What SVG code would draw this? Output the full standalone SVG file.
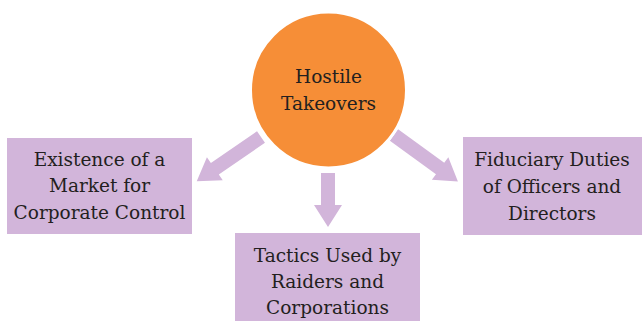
<svg xmlns="http://www.w3.org/2000/svg" width="642" height="321" viewBox="0 0 642 321">
<style>
.box{fill:#D2B5DA}
.arrow{fill:#D2B5DA}
text{font-family:"DejaVu Serif","Liberation Serif",serif;font-size:18.5px;fill:#231F20;text-anchor:middle}
</style>
<defs>
<polygon id="arr78" points="0,-7 56,-7 56,-14 78,0 56,14 56,7 0,7"/>
<polygon id="arr79" points="0,-7 57,-7 57,-14 79,0 57,14 57,7 0,7"/>
<polygon id="arr54" points="0,-7 32,-7 32,-14 54,0 32,14 32,7 0,7"/>
</defs>
<rect width="642" height="321" fill="#fff"/>
<g id="connectors" class="arrow">
<use href="#arr78" transform="translate(261,137) rotate(145.5)"/>
<use href="#arr54" transform="translate(328,173) rotate(90)"/>
<use href="#arr79" transform="translate(394,135) rotate(36)"/>
</g>
<g id="hub">
<circle cx="328.5" cy="90" r="78" fill="#F68E37" stroke="#fff" stroke-width="3"/>
<text x="328.5" y="83">Hostile</text>
<text x="328.5" y="110">Takeovers</text>
</g>
<g id="market">
<rect class="box" x="7" y="138" width="185" height="96"/>
<text x="99.5" y="166">Existence of a</text>
<text x="99.5" y="192">Market for</text>
<text x="99.5" y="219">Corporate Control</text>
</g>
<g id="tactics">
<rect class="box" x="235" y="233" width="185" height="88"/>
<text x="327.5" y="262">Tactics Used by</text>
<text x="327.5" y="288">Raiders and</text>
<text x="327.5" y="314">Corporations</text>
</g>
<g id="fiduciary">
<rect class="box" x="463" y="137" width="179" height="98"/>
<text x="552" y="166">Fiduciary Duties</text>
<text x="552" y="193">of Officers and</text>
<text x="552" y="220">Directors</text>
</g>
</svg>
